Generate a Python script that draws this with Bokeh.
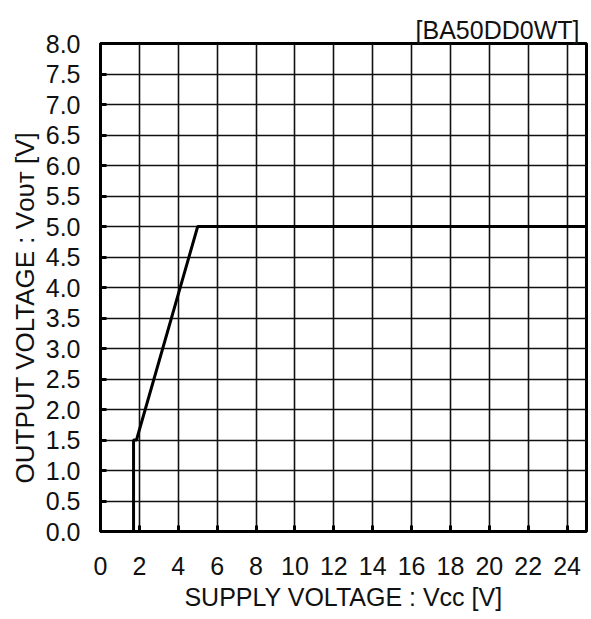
from bokeh.plotting import figure
from bokeh.models import Range1d, FixedTicker, PrintfTickFormatter, LinearAxis, Title
from bokeh.embed import file_html
from bokeh.resources import INLINE

# ---- data ----
vcc = [1.7, 1.7, 1.85, 5.0, 25.0]
vout = [0.0, 1.5, 1.5, 5.0, 5.0]
x_ticks = [0, 2, 4, 6, 8, 10, 12, 14, 16, 18, 20, 22, 24]
y_ticks = [0.0, 0.5, 1.0, 1.5, 2.0, 2.5, 3.0, 3.5, 4.0, 4.5, 5.0, 5.5, 6.0, 6.5, 7.0, 7.5, 8.0]
part_name = "[BA50DD0WT]"
x_title = "SUPPLY VOLTAGE : Vcc [V]"
y_title = "OUTPUT VOLTAGE : V\u1d0f\u1d1c\u1d1b [V]"
y_title_at = 3.67   # data position of the centre of the y title

FONT = "Liberation Sans"

p = figure(width=589, height=619, output_backend="svg", toolbar_location=None,
           x_range=Range1d(0, 25), y_range=Range1d(0, 8),
           min_border_left=100, min_border_right=3, min_border_top=43, min_border_bottom=88)
p.title = Title(text=part_name, align="right", offset=7, standoff=0,
                text_font=FONT, text_font_size="25px", text_font_style="normal",
                text_color="#111111")
p.background_fill_color = "white"
p.border_fill_color = "white"
p.outline_line_color = "black"
p.outline_line_width = 3

p.line(vcc, vout, line_color="black", line_width=3)

for ax in (p.xaxis[0], p.yaxis[0]):
    ax.axis_line_color = "black"
    ax.axis_line_width = 3
    ax.major_tick_line_color = "black"
    ax.major_tick_line_width = 3
    ax.major_tick_in = 6
    ax.major_tick_out = 0
    ax.minor_tick_line_color = None
    ax.major_label_text_font = FONT
    ax.major_label_text_font_size = "25px"
    ax.major_label_text_color = "#111111"

p.xaxis[0].ticker = FixedTicker(ticks=x_ticks)
p.yaxis[0].ticker = FixedTicker(ticks=y_ticks)
p.yaxis[0].formatter = PrintfTickFormatter(format="%.1f")
p.xaxis[0].major_label_standoff = 25
p.yaxis[0].major_label_standoff = 20

p.xaxis[0].axis_label = x_title
p.xaxis[0].axis_label_text_font = FONT
p.xaxis[0].axis_label_text_font_size = "25px"
p.xaxis[0].axis_label_text_font_style = "normal"
p.xaxis[0].axis_label_text_color = "#111111"
p.xaxis[0].axis_label_standoff = 5

for g in (p.xgrid[0], p.ygrid[0]):
    g.grid_line_color = "#111111"
    g.grid_line_width = 1.6
    g.grid_line_alpha = 1.0

# y title drawn as a single rotated label of an extra, line-less axis
ytitle_axis = LinearAxis(ticker=FixedTicker(ticks=[y_title_at]),
                         major_label_overrides={y_title_at: y_title},
                         major_label_orientation="vertical",
                         axis_line_color=None, major_tick_line_color=None,
                         minor_tick_line_color=None,
                         major_tick_in=0, major_tick_out=0,
                         major_label_standoff=2,
                         major_label_text_font="Liberation Sans, DejaVu Sans",
                         major_label_text_font_size="26px",
                         major_label_text_color="#111111")
p.add_layout(ytitle_axis, "left")

open("out.html", "w").write(file_html(p, INLINE))
